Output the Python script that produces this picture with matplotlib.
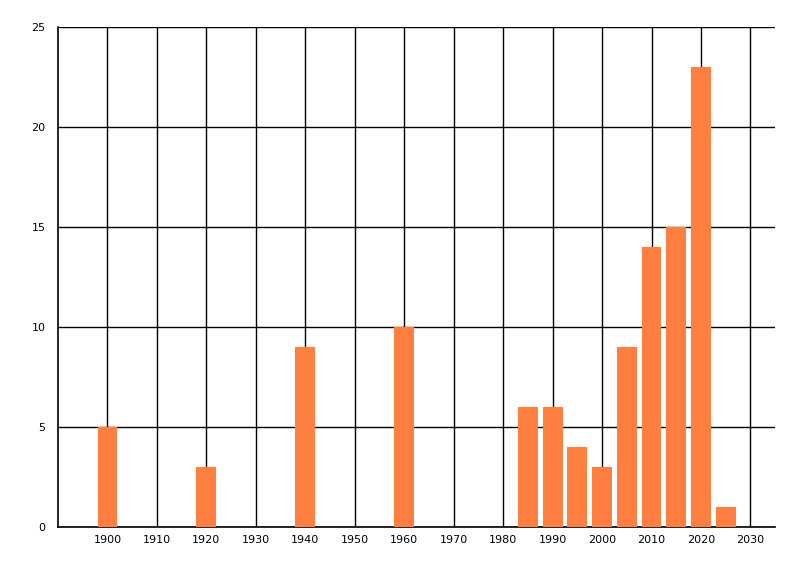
import matplotlib
matplotlib.use("Agg")
import matplotlib.pyplot as plt

# valeurs
years = [1900, 1920, 1940, 1960, 1985, 1990, 1995, 2000, 2005, 2010, 2015, 2020, 2025]
counts = [5, 3, 9, 10, 6, 6, 4, 3, 9, 14, 15, 23, 1]
xticks = list(range(1900, 2031, 10))
yticks = [0, 5, 10, 15, 20, 25]

fig = plt.figure(figsize=(8, 5.76), dpi=100)
ax = fig.add_axes([0.0725, 0.085, 0.8965, 0.868])

ax.bar(years, counts, width=4, color="#FF7F40", zorder=3)

ax.set_xlim(1890, 2035)
ax.set_ylim(0, 25)
ax.set_xticks(xticks)
ax.set_yticks(yticks)
ax.tick_params(axis="x", length=0, labelsize=8, pad=6)
ax.tick_params(axis="y", length=0, labelsize=8, pad=9)

ax.grid(True, color="black", linewidth=1, zorder=0)
ax.set_axisbelow(True)
for s in ["top", "right"]:
    ax.spines[s].set_visible(False)
for s in ["left", "bottom"]:
    ax.spines[s].set_linewidth(1.2)

fig.savefig("out.png", dpi=100)
